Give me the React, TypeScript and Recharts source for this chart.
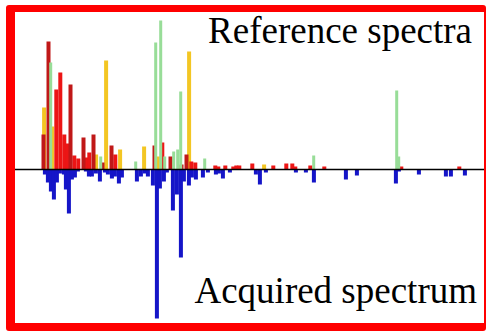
import { ComposedChart, Bar, XAxis, YAxis, ReferenceLine } from 'recharts';

// Peaks as [channel, intensity]. Reference spectra point up, the acquired one points down.
const yellowPeaks: [number, number][] = [
  [29, 62], [37, 43], [81, 15], [91, 109], [105, 20], [129, 23], [143, 13], [174, 118], [249, 5],
];

const redPeaks: [number, number][] = [
  [41, 80], [45, 97], [49, 35], [52, 26], [59, 14], [63, 11], [71, 12], [74, 17], [100, 15],
  [147, 27], [176, 8], [180, 7], [200, 4], [203, 3], [210, 4], [218, 3], [221, 4], [224, 4],
  [237, 6], [258, 4], [271, 6], [277, 6], [280, 3], [295, 4], [309, 3], [386, 3], [444, 3],
];

const darkRedPeaks: [number, number][] = [
  [28, 35], [33, 128], [55, 85], [68, 32], [78, 35], [87, 7], [96, 24], [139, 24], [155, 13],
  [166, 5], [171, 15],
];

const greenPeaks: [number, number][] = [
  [35, 107], [85, 13], [120, 8], [140, 127], [145, 149], [149, 13], [158, 18], [162, 20],
  [165, 78], [189, 11], [298, 14], [381, 79], [383, 13],
];

const bluePeaks: [number, number][] = [
  [29, 5], [32, 13], [35, 22], [38, 30], [41, 13], [44, 4], [48, 5], [50, 20], [53, 44], [56, 10],
  [59, 8], [62, 2], [70, 2], [73, 7], [76, 7], [80, 4], [84, 12], [89, 3], [92, 5], [96, 9],
  [99, 7], [103, 14], [106, 8], [121, 12], [125, 7], [129, 4], [132, 7], [137, 16], [141, 149],
  [144, 19], [148, 12], [151, 3], [157, 41], [161, 25], [165, 88], [168, 12], [173, 16], [176, 8],
  [180, 10], [187, 8], [192, 3], [200, 5], [203, 4], [207, 9], [214, 3], [240, 5], [244, 15],
  [250, 3], [280, 3], [290, 3], [298, 13], [330, 10], [341, 6], [380, 14], [383, 2], [403, 5],
  [430, 7], [435, 7], [449, 6],
];

const CHANNELS = 471;

type Row = { ch: number; [key: string]: number | null };

const chartData: Row[] = Array.from({ length: CHANNELS }, (_, ch) => ({
  ch,
  yellow: null,
  red: null,
  darkRed: null,
  green: null,
  blue: null,
}));

const put = (key: string, peaks: [number, number][], sign = 1) => {
  peaks.forEach(([ch, v]) => {
    chartData[ch][key] = sign * v;
  });
};
put('yellow', yellowPeaks);
put('red', redPeaks);
put('darkRed', darkRedPeaks);
put('green', greenPeaks);
put('blue', bluePeaks, -1);

// each channel is 1px wide, so widen the stick around its centre
const stick = (w: number) => (props: any) => {
  const { x, y, width, height, fill } = props;
  if (!height) return <g />;
  const top = height < 0 ? y + height : y;
  return <rect x={x + width / 2 - w / 2} y={top} width={w} height={Math.abs(height)} fill={fill} />;
};

const labelStyle = {
  position: 'absolute' as const,
  right: 14,
  fontFamily: "'Liberation Serif', 'Times New Roman', Times, 'DejaVu Serif', serif",
  fontSize: 37,
  lineHeight: '37px',
  color: '#000',
  whiteSpace: 'nowrap' as const,
};

export default function App() {
  return (
    <div style={{ position: 'absolute', left: 0, top: 0, width: 486, height: 331, background: '#fff' }}>
      <ComposedChart
        width={486}
        height={331}
        data={chartData}
        margin={{ top: 12, right: 0, bottom: 9, left: 15 }}
        barCategoryGap={0}
        barGap={0}
      >
        <XAxis dataKey="ch" hide />
        <YAxis hide domain={[-152.5, 157.5]} allowDataOverflow />
        <Bar dataKey="yellow" fill="#f3c623" shape={stick(4)} isAnimationActive={false} />
        <Bar dataKey="red" fill="#ec1515" shape={stick(4)} isAnimationActive={false} />
        <Bar dataKey="darkRed" fill="#c01818" shape={stick(4)} isAnimationActive={false} />
        <Bar dataKey="green" fill="#98dd98" shape={stick(3)} isAnimationActive={false} />
        <Bar dataKey="blue" fill="#1515c8" shape={stick(4)} isAnimationActive={false} />
        <ReferenceLine y={0} stroke="#000" strokeWidth={1.3} />
      </ComposedChart>

      <div style={{ ...labelStyle, top: 12 }}>Reference spectra</div>
      <div style={{ ...labelStyle, top: 272, right: 9 }}>Acquired spectrum</div>

      {/* red frame, heavier on left, top and bottom */}
      <div
        style={{
          position: 'absolute',
          left: 6,
          top: 5,
          width: 480,
          height: 326,
          boxSizing: 'border-box',
          borderStyle: 'solid',
          borderColor: '#ff0000',
          borderWidth: '7px 2px 8px 9px',
          borderRadius: 3,
        }}
      />
    </div>
  );
}
